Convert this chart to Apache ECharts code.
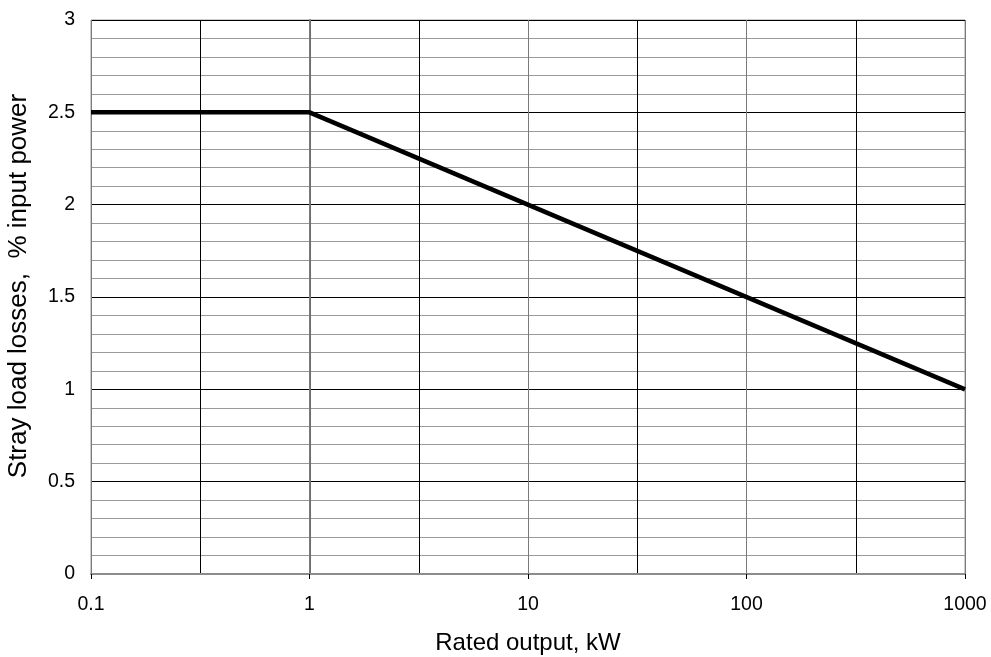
<!DOCTYPE html>
<html><head><meta charset="utf-8">
<script src="https://cdn.jsdelivr.net/npm/echarts@6/dist/echarts.min.js"></script>
<style>html,body{margin:0;padding:0;background:#fff}#c{width:991px;height:657px}</style>
</head><body><div id="c"></div>
<script>
const ratedOutput = [0.1, 1, 1000];
const strayLoss = [2.5, 2.5, 1.0];
const xTickLabels = ['0.1', '1', '10', '100', '1000'];
const yTickLabels = ['0', '0.5', '1', '1.5', '2', '2.5', '3'];

const font = 'Liberation Sans, Arial, sans-serif';
const chart = echarts.init(document.getElementById('c'));
chart.setOption({
  animation: false,
  grid: { left: 91, right: 26, top: 20, bottom: 83, outerBoundsMode: 'none', containLabel: false,
    show: true, borderColor: '#9a9a9a', borderWidth: 1, backgroundColor: 'transparent' },
  xAxis: [
    {
      type: 'log', logBase: 10, min: 0.1, max: 1000, z: 3,
      name: 'Rated output, kW', nameLocation: 'middle', nameGap: 57,
      nameTextStyle: { fontFamily: font, fontSize: 24, color: '#000' },
      axisLine: { show: true, lineStyle: { color: '#8c8c8c', width: 2 } },
      axisTick: { show: true, length: 5, lineStyle: { color: '#000', width: 1 } },
      axisLabel: { fontFamily: font, fontSize: 19.5, color: '#000', margin: 21,
        formatter: v => { const s = String(Number(v.toPrecision(6))); return xTickLabels.includes(s) ? s : ''; } },
      splitLine: { show: true, lineStyle: { color: '#7a7a7a', width: 1 } },
      minorSplitLine: { show: false }
    },
    {
      type: 'value', min: -1, max: 3, interval: 0.5, position: 'bottom', z: 1,
      axisLine: { show: false }, axisTick: { show: false }, axisLabel: { show: false },
      splitLine: { show: true, lineStyle: { color: '#000', width: 1 } }
    }
  ],
  yAxis: {
    type: 'value', min: 0, max: 3, interval: 0.5,
    name: 'Stray load losses,  % input power', nameLocation: 'middle', nameGap: 59, nameRotate: 90,
    nameTextStyle: { fontFamily: font, fontSize: 26, color: '#000', padding: [0, 0, 0, 22] },
    axisLine: { show: true, lineStyle: { color: '#6e6e6e', width: 2 } },
    axisTick: { show: true, length: 5, lineStyle: { color: '#000', width: 1 } },
    axisLabel: { fontFamily: font, fontSize: 19.5, color: '#000', margin: 16,
      formatter: v => yTickLabels.find(t => Number(t) === v) || '' },
    splitLine: { show: true, lineStyle: { color: '#000', width: 1 } },
    minorTick: { show: false, splitNumber: 5 },
    minorSplitLine: { show: true, lineStyle: { color: '#9a9a9a', width: 1 } }
  },
  series: [{
    type: 'line', xAxisIndex: 0,
    data: ratedOutput.map((x, i) => [x, strayLoss[i]]),
    symbol: 'none', lineStyle: { color: '#000', width: 4.5 }, z: 5
  }]
});
</script></body></html>
